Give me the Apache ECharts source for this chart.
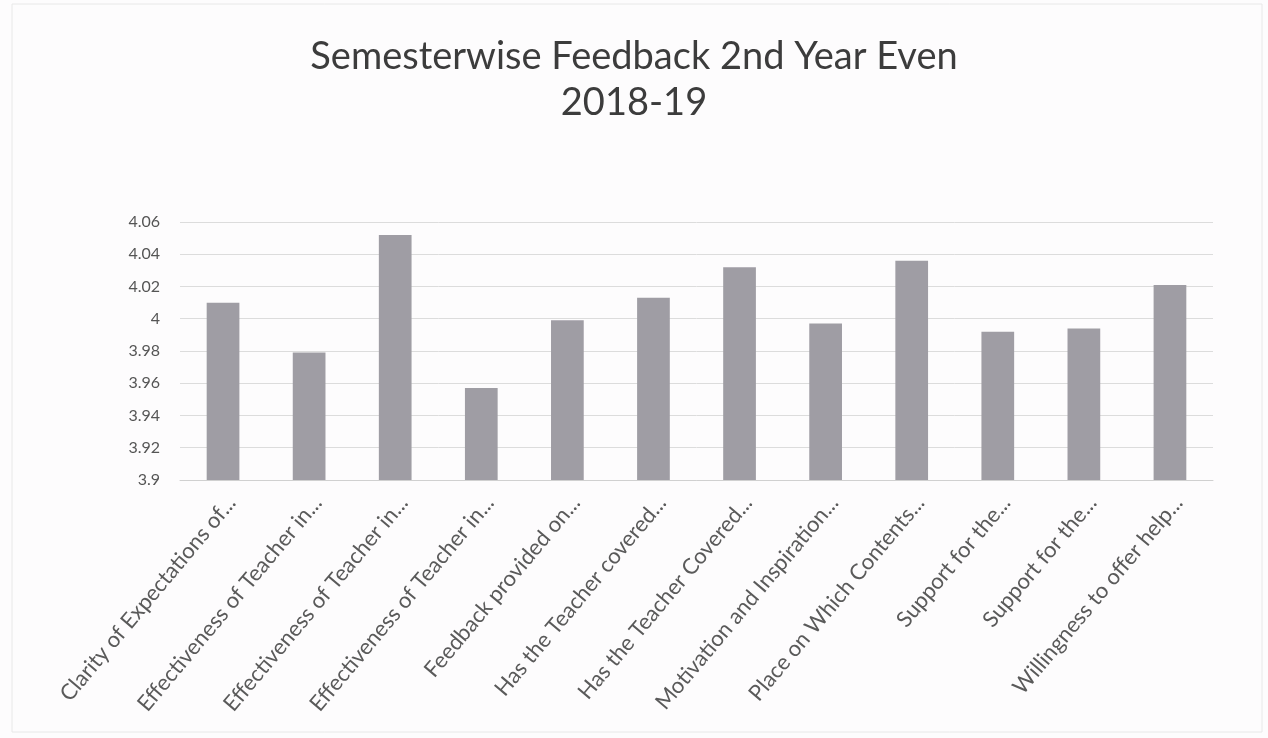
<!DOCTYPE html>
<html>
<head>
<meta charset="utf-8">
<script src="https://cdn.jsdelivr.net/npm/echarts@6/dist/echarts.min.js"></script>
<style>
html,body{margin:0;padding:0;background:#fdfcfd;}
#chart{width:1268px;height:738px;}
</style>
</head>
<body>
<div id="chart"></div>
<script>
const titleText = "Semesterwise Feedback 2nd Year Even\n2018-19";
const categories = [
  "Clarity of Expectations of...",
  "Effectiveness of Teacher in...",
  "Effectiveness of Teacher in...",
  "Effectiveness of Teacher in...",
  "Feedback provided on...",
  "Has the Teacher covered...",
  "Has the Teacher Covered...",
  "Motivation and Inspiration...",
  "Place on Which Contents...",
  "Support for the...",
  "Support for the...",
  "Willingness to offer help..."
];
const values = [4.01, 3.979, 4.052, 3.957, 3.999, 4.013, 4.032, 3.997, 4.036, 3.992, 3.994, 4.021];
const yTicks = [3.9, 3.92, 3.94, 3.96, 3.98, 4, 4.02, 4.04, 4.06];

const chart = echarts.init(document.getElementById('chart'), null, {renderer: 'canvas'});
const font = 'Lato, "Open Sans", sans-serif';
chart.setOption({
  backgroundColor: '#fdfcfd',
  animation: false,
  title: {
    text: titleText,
    left: 'center',
    top: 29,
    textStyle: {fontFamily: font, fontSize: 38, fontWeight: 'normal', color: '#3c3c3c', lineHeight: 46}
  },
  graphic: [{
    type: 'rect',
    shape: {x: 12, y: 4, width: 1250, height: 728},
    style: {fill: 'none', stroke: '#e8e8e8', lineWidth: 1}
  }],
  grid: {left: 180, right: 55, top: 222, bottom: 258},
  xAxis: {
    type: 'category',
    data: categories,
    axisLine: {show: true, lineStyle: {color: '#d0d0d0'}},
    axisTick: {show: false},
    axisLabel: {rotate: 50, interval: 0, fontFamily: font, fontSize: 22, color: '#5a5a5a', margin: 12, verticalAlign: 'top'}
  },
  yAxis: {
    type: 'value',
    min: yTicks[0],
    max: yTicks[yTicks.length - 1],
    interval: 0.02,
    axisLine: {show: false},
    axisTick: {show: false},
    splitLine: {lineStyle: {color: '#dcdcdc'}},
    axisLabel: {
      fontFamily: font, fontSize: 16, color: '#555555', margin: 20,
      formatter: function (v) { return String(Math.round(v * 100) / 100); }
    }
  },
  series: [{
    type: 'bar',
    data: values,
    barWidth: '38%',
    itemStyle: {color: '#9f9da4'}
  }]
});
</script>
</body>
</html>
